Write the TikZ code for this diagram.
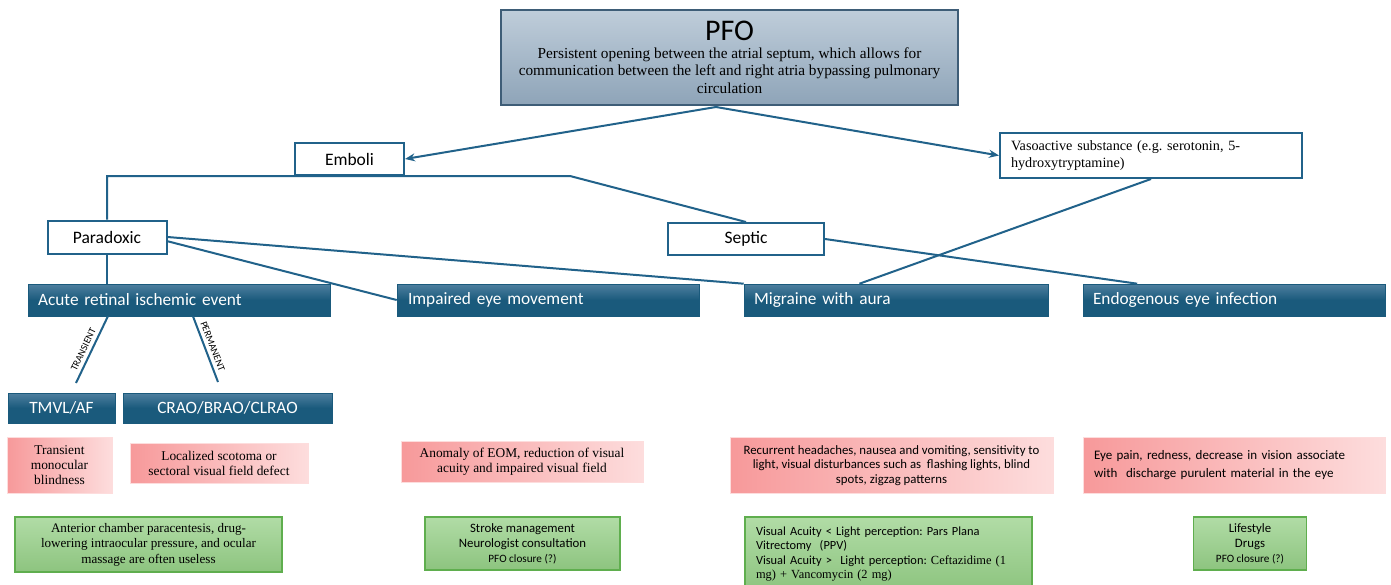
\documentclass[tikz,border=0pt]{standalone}
\usepackage{fontspec}
\setmainfont{Liberation Serif}
\setsansfont{Carlito}
\usepackage{xcolor}
\usetikzlibrary{arrows.meta,calc}
\frenchspacing

\definecolor{edgeblue}{HTML}{21628A}
\definecolor{bartop}{HTML}{4E7F9F}
\definecolor{barbottom}{HTML}{1A5A7C}
\definecolor{pfotop}{HTML}{BFCDDA}
\definecolor{pfobottom}{HTML}{8EA4B8}
\definecolor{pfoborder}{HTML}{3E5D77}
\definecolor{pinkdark}{HTML}{F7999A}
\definecolor{pinklight}{HTML}{FDDDDD}
\definecolor{greentop}{HTML}{B1DCA6}
\definecolor{greenbottom}{HTML}{8DC47F}
\definecolor{greenborder}{HTML}{5FAE4E}

\tikzset{
    linkline/.style={draw=edgeblue, line width=2pt},
    linkarrow/.style={linkline, -{Stealth[length=10pt, width=8pt]}},
    whitebox/.style={draw=edgeblue, line width=2pt, fill=white, rectangle, font=\sffamily\fontsize{17.5}{19}\selectfont},
    bluebar/.style={rectangle, top color=bartop, bottom color=barbottom, middle color=barbottom, draw=barbottom, line width=0.6pt, text=white, minimum height=32pt, font=\sffamily\fontsize{17.3}{19}\selectfont},
    pinkbox/.style={rectangle, left color=pinkdark, right color=pinklight, draw=pinklight, line width=0.6pt, align=center, font=\fontsize{13.4}{15}\selectfont},
    greenbox/.style={rectangle, top color=greentop, bottom color=greenbottom, draw=greenborder, line width=1.2pt, align=center},
    tag/.style={font=\sffamily\fontsize{10}{10}\selectfont, sloped, inner sep=3.5pt},
}

\begin{document}
\begin{tikzpicture}[x=1pt, y=-1pt]

        \useasboundingbox (0,0) rectangle (1391,584);
        \clip (0,0) rectangle (1391,584);
        \fill[white] (0,0) rectangle (1391,584);

        % Top node
        \node (pfo) [rectangle, top color=pfotop, bottom color=pfobottom, draw=pfoborder, line width=2.2pt, minimum width=457pt, minimum height=95pt, align=center, font=\fontsize{15.3}{17.5}\selectfont] at (729.5,57.5) {{\sffamily\fontsize{30}{31}\selectfont PFO}\\Persistent opening between the atrial septum, which allows for\\communication between the left and right atria bypassing pulmonary\\circulation};

        % Mechanism nodes
        \node (emboli) [whitebox, minimum width=109pt, minimum height=32pt] at (349.5,159) {Emboli};
        \node (vasoactive) [whitebox, font=\fontsize{14.2}{17}\selectfont, text width=280pt, inner xsep=11pt, align=left, minimum height=45pt] at (1151,155.5) {Vasoactive substance (e.g. serotonin, 5-\\hydroxytryptamine)};
        \node (paradoxic) [whitebox, minimum width=119pt, minimum height=33pt] at (107,237) {Paradoxic};
        \node (septic) [whitebox, minimum width=156pt, minimum height=32pt] at (746,239) {Septic};

        % Eye manifestation bars
        \node (acute) [bluebar, text width=282pt, inner xsep=10pt, align=left] at (179,300) {Acute retinal ischemic event};
        \node (impaired) [bluebar, text width=280pt, inner xsep=11pt, align=left] at (548,300) {Impaired eye movement};
        \node (migraine) [bluebar, text width=284pt, inner xsep=10pt, align=left] at (896,300) {Migraine with aura};
        \node (endo) [bluebar, text width=282pt, inner xsep=10pt, align=left] at (1234,300) {Endogenous eye infection};
        \node (tmvl) [bluebar, minimum width=107pt, minimum height=30pt] at (61.5,408) {TMVL/AF};
        \node (crao) [bluebar, minimum width=209pt, minimum height=30pt] at (227.5,408) {CRAO/BRAO/CLRAO};

        % Symptom boxes
        \node (transient) [pinkbox, minimum width=105pt, minimum height=56pt] at (59.5,465.5) {Transient\\monocular\\blindness};
        \node (scotoma) [pinkbox, minimum width=178pt, minimum height=40pt] at (219,463) {Localized scotoma or\\sectoral visual field defect};
        \node (anomaly) [pinkbox, minimum width=242pt, minimum height=41pt] at (522,461.5) {Anomaly of EOM, reduction of visual\\acuity and impaired visual field};
        \node (headaches) [pinkbox, minimum width=323pt, minimum height=56pt, font=\sffamily\fontsize{12.8}{14.5}\selectfont] at (891.5,465.5) {Recurrent headaches, nausea and vomiting, sensitivity to\\light, visual disturbances such as\ \ flashing lights, blind\\spots, zigzag patterns};
        \node (eyepain) [pinkbox, text width=280pt, inner xsep=11pt, align=left, minimum height=56pt, font=\sffamily\fontsize{13}{18}\selectfont] at (1234,465.5) {Eye pain, redness, decrease in vision associate\\with\ \ discharge purulent material in the eye};

        % Treatment boxes
        \node (paracentesis) [greenbox, minimum width=267pt, minimum height=55pt, font=\fontsize{13.1}{15.5}\selectfont] at (148.5,544.5) {Anterior chamber paracentesis, drug-\\lowering intraocular pressure, and ocular\\massage are often useless};
        \node (stroke) [greenbox, minimum width=195pt, minimum height=53pt, font=\sffamily\fontsize{12.8}{15}\selectfont] at (522.5,543.5) {Stroke management\\Neurologist consultation\\{\fontsize{11.2}{13}\selectfont PFO closure (?)}};
        \node (vitrectomy) [greenbox, text width=265pt, inner xsep=11pt, align=left, minimum height=74pt, font=\sffamily\fontsize{12.4}{14.5}\selectfont] at (888.5,554) {Visual Acuity < Light perception: Pars Plana\\Vitrectomy\ \ (PPV)\\Visual Acuity >\ \ Light perception: {\rmfamily\fontsize{12.4}{14.5}\selectfont Ceftazidime (1}\\{\rmfamily\fontsize{12.4}{14.5}\selectfont mg) + Vancomycin (2 mg)}};
        \node (lifestyle) [greenbox, minimum width=113pt, minimum height=53pt, font=\sffamily\fontsize{12.8}{15}\selectfont] at (1250,543.5) {Lifestyle\\Drugs\\{\fontsize{11.2}{13}\selectfont PFO closure (?)}};

        % Free ends
        \coordinate (pfobase) at (716,107);
        \coordinate (split) at (570,176);
        \coordinate (transend) at (76,383);
        \coordinate (permend) at (218,382);

        % Arrows
        \draw[linkarrow] (pfobase) -- (emboli.east);
        \draw[linkarrow] (pfobase) -- (vasoactive.west);
        \draw[linkline] (paradoxic.north) |- (split) -- (septic.north);
        \draw[linkline] (paradoxic.south) -- (acute.north -| paradoxic.south);
        \draw[linkline] (paradoxic.east) -- (migraine.north west);
        \draw[linkline] (paradoxic.-4) -- (impaired.west);
        \draw[linkline] (septic.east) -- ($(endo.north west)!0.18!(endo.north east)$);
        \draw[linkline] (vasoactive.south) -- ($(migraine.north west)!0.38!(migraine.north east)$);
        \draw[linkline] (transend) -- node[tag, above, pos=0.45] {TRANSIENT} ($(acute.south west)!0.265!(acute.south east)$);
        \draw[linkline] ($(acute.south)+(14,0)$) -- node[tag, above] {PERMANENT} (permend);

    \end{tikzpicture}
\end{document}
